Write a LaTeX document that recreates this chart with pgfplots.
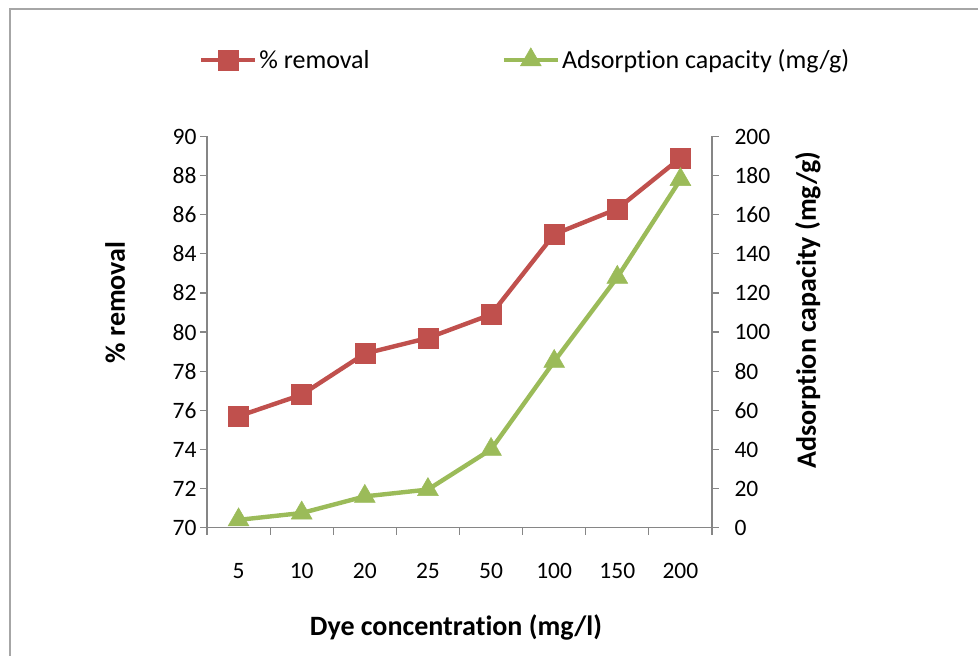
\documentclass[border=0pt]{standalone}
\usepackage{fontspec}
\setmainfont{Carlito}[Ligatures={NoCommon}]
\usepackage{pgfplots}
\pgfplotsset{compat=1.18}
\definecolor{cred}{HTML}{C0504D}
\definecolor{cgreen}{HTML}{9BBB59}
\definecolor{caxis}{HTML}{868686}
\definecolor{cframe}{HTML}{A6A6A6}
\newcommand{\nt}{t\kern0pt{}}
\begin{document}
\begin{tikzpicture}
\path[use as bounding box] (0,0) rectangle (978pt,656pt);
\fill[white] (0,0) rectangle (978pt,656pt);
\draw[cframe, line width=1.5pt] (10pt,0pt) -- (10pt,647pt) -- (978pt,647pt);
\begin{axis}[
  at={(207pt,128.3pt)}, anchor=south west,
  scale only axis, width=505pt, height=391.2pt,
  xmin=-0.5, xmax=7.5, ymin=70, ymax=90,
  axis x line*=bottom, axis y line*=left,
  axis line style={-, caxis, line width=1.2pt},
  xtick={0,...,7},
  xticklabels={5,10,20,25,50,100,150,200},
  minor xtick={-0.5,0.5,...,7.5},
  major x tick style={draw=none},
  minor x tick style={caxis, line width=1.2pt},
  ytick={70,72,...,90},
  y tick style={caxis, line width=1.2pt},
  tick align=outside,
  major tick length=7pt, minor tick length=7pt,
  tick label style={font=\fontsize{23.5}{27}\selectfont, text=black},
  /pgf/number format/assume math mode=true,
  xticklabel style={yshift=-25pt},
  xlabel={Dye concentra\nt ion (mg/l)},
  xlabel style={at={(axis description cs:0.493,-0.254)}, anchor=center, font=\fontsize{28}{32}\selectfont\bfseries},
  ylabel={\% removal},
  ylabel style={at={(axis description cs:-0.182,0.576)}, anchor=center, font=\fontsize{28}{32}\selectfont\bfseries},
  clip=false,
]
\addplot[cred, line width=4.4pt, mark=square*, mark size=10pt, mark options={fill=cred, draw=cred, line width=0.5pt}]
  coordinates {(0,75.7) (1,76.8) (2,78.9) (3,79.7) (4,80.9) (5,85.0) (6,86.3) (7,88.9)};
\end{axis}
\begin{axis}[
  at={(207pt,128.3pt)}, anchor=south west,
  scale only axis, width=505pt, height=391.2pt,
  xmin=-0.5, xmax=7.5, ymin=0, ymax=200,
  axis x line=none, axis y line*=right,
  axis line style={-, caxis, line width=1.2pt},
  ytick={0,20,...,200},
  y tick style={caxis, line width=1.2pt},
  tick align=outside,
  major tick length=7pt,
  tick label style={font=\fontsize{23.5}{27}\selectfont, text=black},
  yticklabel style={xshift=12pt},
  /pgf/number format/assume math mode=true,
  ylabel={Adsorp\nt ion capacity (mg/g)},
  ylabel style={at={(axis description cs:1.19,0.556)}, anchor=center, font=\fontsize{28}{32}\selectfont\bfseries},
  clip=false,
  legend columns=2,
  legend style={at={(axis description cs:0.63,1.196)}, anchor=center, draw=none, fill=none,
    font=\fontsize{26}{30}\selectfont, /tikz/every even column/.append style={column sep=130pt}},
  legend image code/.code={\draw[mark repeat=2,mark phase=2,#1] plot coordinates {(0pt,0pt) (27pt,0pt) (54pt,0pt)};},
]
\addlegendimage{cred, line width=4.4pt, mark=square*, mark size=10pt, mark options={fill=cred, draw=cred, line width=0.5pt}}
\addlegendentry{\% removal}
\addplot[cgreen, line width=4.4pt, mark=triangle*, mark size=12pt, mark options={fill=cgreen, draw=cgreen, line width=0.5pt}]
  coordinates {(0,4) (1,7.5) (2,16) (3,19.5) (4,40) (5,85) (6,128) (7,178)};
\addlegendentry{Adsorp\nt ion capacity (mg/g)}
\end{axis}
\end{tikzpicture}
\end{document}
